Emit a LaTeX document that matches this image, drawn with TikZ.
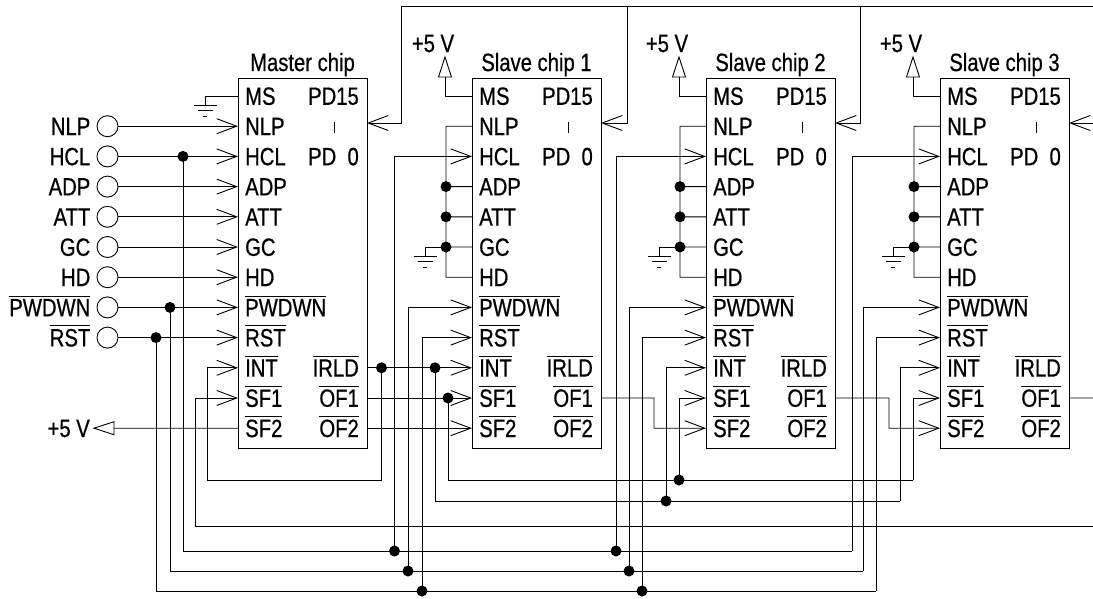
\documentclass[tikz,border=0pt]{standalone}
\usepackage{fontspec}
\setmainfont{Liberation Sans}[FakeStretch=0.81,FakeBold=0.6]
\usetikzlibrary{arrows.meta}
\newsavebox\obbox
\newcommand\ob[1]{\sbox\obbox{#1}\rlap{\raisebox{\dimexpr\ht\obbox+2.5pt\relax}{\rule{\wd\obbox}{1pt}}}\usebox\obbox}
\begin{document}
\begin{tikzpicture}[x=1pt,y=-1pt,
  font=\fontsize{25}{29}\selectfont,
  wire/.style={line width=0.9pt},
  chipbox/.style={draw, line width=1.1pt, inner sep=0pt, minimum width=129pt, minimum height=370pt, anchor=north west},
  pinl/.style={anchor=base west, inner sep=0pt},
  pinr/.style={anchor=base east, inner sep=0pt},
  ar/.style={-{Straight Barb[length=20pt,width=15pt,line width=0.9pt]}},
  jdot/.style={circle, fill, inner sep=0pt, minimum size=11pt},
  port/.style={circle, draw, line width=0.9pt, inner sep=0pt, minimum size=21pt},
  gnd/.pic={\draw[line width=0.9pt] (-11.5,0) -- (11.5,0) (-7.5,5.5) -- (7.5,5.5) (-2,11) -- (2,11);},
]
\useasboundingbox (0,0) rectangle (1093,598);

% chips
\foreach \chip/\xl/\ttl in {m/238/Master chip,s1/472/Slave chip 1,s2/706/Slave chip 2,s3/940/Slave chip 3}{
  \node[chipbox] (\chip) at (\xl,78) {};
  \node[anchor=base, inner sep=0pt] (\chip-title) at (\xl+64.5,71) {\ttl};
  \foreach \i/\lab in {0/MS,1/NLP,2/HCL,3/ADP,4/ATT,5/GC,6/HD,7/\ob{PWDWN},8/\ob{RST},9/\ob{INT},10/\ob{SF1},11/\ob{SF2}}{
    \coordinate (\chip-l\i) at (\xl,96+30.2*\i);
    \node[pinl] (\chip-t\i) at (\xl+7,104.8+30.2*\i) {\lab};
  }
  \foreach \i/\lab in {0/PD15,2/PD\phantom{1}0,9/\ob{IRLD},10/\ob{OF1},11/\ob{OF2}}{
    \coordinate (\chip-r\i) at (\xl+129,96+30.2*\i);
    \node[pinr] (\chip-u\i) at (\xl+121,104.8+30.2*\i) {\lab};
  }
  \coordinate (\chip-pd) at (\xl+129,123);
  \draw[line width=0.9pt] (\xl+96.5,122) -- (\xl+96.5,133);
}

% master inputs
\foreach \i/\lab in {1/NLP,2/HCL,3/ADP,4/ATT,5/GC,6/HD,7/\ob{PWDWN},8/\ob{RST}}{
  \node[port] (in\i) at (107.5,96+30.2*\i) {};
  \node[pinr] (inl\i) at (90.5,104.8+30.2*\i) {\lab};
  \draw[wire,ar] (in\i) -- (m-l\i);
}

% master MS ground
\coordinate (mg) at (205,105);
\draw[wire] (m-l0) -| (mg);
\pic at (mg) {gnd};

% master SF2 to +5 V
\coordinate (mv) at (114,428.2);
\draw[wire] (m-l11) -- (mv);
\draw[line width=0.9pt] (114,421.7) -- (94,428.2) -- (114,434.7) -- cycle;
\node[pinr] (mvl) at (90,437) {+5 V};

% HCL bus
\coordinate (jH) at (183,156.4);
\coordinate (cH0) at (183,551);
\coordinate (jH1) at (394.5,551);
\coordinate (jH2) at (616,551);
\coordinate (cH3) at (852,551);
\draw[wire] (jH) -- (cH0) -- (cH3);
\draw[wire,ar] (cH3) |- (s3-l2);
\draw[wire,ar] (jH1) |- (s1-l2);
\draw[wire,ar] (jH2) |- (s2-l2);

% PWDWN bus
\coordinate (jP) at (170,307.4);
\coordinate (cP0) at (170,571);
\coordinate (jP1) at (408,571);
\coordinate (jP2) at (629,571);
\coordinate (cP3) at (863,571);
\draw[wire] (jP) -- (cP0) -- (cP3);
\draw[wire,ar] (cP3) |- (s3-l7);
\draw[wire,ar] (jP1) |- (s1-l7);
\draw[wire,ar] (jP2) |- (s2-l7);

% RST bus
\coordinate (jR) at (156,337.6);
\coordinate (cR0) at (156,591);
\coordinate (jR1) at (422,591);
\coordinate (jR2) at (642,591);
\coordinate (cR3) at (876,591);
\draw[wire] (jR) -- (cR0) -- (cR3);
\draw[wire,ar] (cR3) |- (s3-l8);
\draw[wire,ar] (jR1) |- (s1-l8);
\draw[wire,ar] (jR2) |- (s2-l8);

% IRLD -> INT
\coordinate (jI) at (381.5,367.8);
\coordinate (jI1) at (435,367.8);
\coordinate (cIa) at (381.5,480);
\coordinate (cIb) at (207,480);
\coordinate (cIc) at (435,501);
\coordinate (jI2) at (666,501);
\coordinate (cI3) at (900,501);
\draw[wire,ar] (m-r9) -- (s1-l9);
\draw[wire,ar] (jI) -- (cIa) -- (cIb) |- (m-l9);
\draw[wire] (jI1) -- (cIc) -- (cI3);
\draw[wire,ar] (cI3) |- (s3-l9);
\draw[wire,ar] (jI2) |- (s2-l9);

% OF1 -> SF1
\coordinate (jF) at (448,398);
\coordinate (cFa) at (448,480);
\coordinate (jF2) at (679,480);
\coordinate (cF3) at (913,480);
\draw[wire,ar] (m-r10) -- (s1-l10);
\draw[wire] (jF) -- (cFa) -- (cF3);
\draw[wire,ar] (cF3) |- (s3-l10);
\draw[wire,ar] (jF2) |- (s2-l10);

% master SF1 feed from the right
\coordinate (eS) at (1093,526);
\coordinate (cS) at (195,526);
\draw[wire,ar] (eS) -- (cS) |- (m-l10);

% OF2 / OF1 -> SF2
\draw[wire,ar] (m-r11) -- (s1-l11);
\coordinate (k1) at (654,398);
\coordinate (k2) at (889,398);
\coordinate (eO) at (1093,398);
\draw[wire,ar] (s1-r10) -- (k1) |- (s2-l11);
\draw[wire,ar] (s2-r10) -- (k2) |- (s3-l11);
\draw[wire] (s3-r10) -- (eO);

% PD bus
\coordinate (pA) at (401,6);
\coordinate (pB) at (627,6);
\coordinate (pC) at (860,6);
\coordinate (pE) at (1093,6);
\coordinate (pF) at (1093,123);
\draw[wire] (pE) -- (pA);
\draw[wire,ar] (pA) |- (m-pd);
\draw[wire,ar] (pB) |- (s1-pd);
\draw[wire,ar] (pC) |- (s2-pd);
\draw[wire,ar] (pF) -- (s3-pd);

% slave internals
\foreach \chip/\xl in {s1/472,s2/706,s3/940}{
  \coordinate (\chip-na) at (\xl-26,126.2);
  \coordinate (\chip-nb) at (\xl-26,277.2);
  \coordinate (\chip-ja) at (\xl-26,186.6);
  \coordinate (\chip-jb) at (\xl-26,216.8);
  \coordinate (\chip-jc) at (\xl-26,247);
  \draw[wire] (\chip-l1) -- (\chip-na) -- (\chip-nb) -- (\chip-l6);
  \draw[wire] (\chip-ja) -- (\chip-l3) (\chip-jb) -- (\chip-l4) (\chip-jc) -- (\chip-l5);
  \coordinate (\chip-g) at (\xl-47,256);
  \draw[wire] (\chip-jc) -| (\chip-g);
  \pic at (\chip-g) {gnd};
  \coordinate (\chip-v) at (\xl-27,77);
  \draw[wire] (\chip-l0) -| (\chip-v);
  \draw[line width=0.9pt] (\xl-33.5,77) -- (\xl-27,57) -- (\xl-20.5,77) -- cycle;
  \node[anchor=base, inner sep=0pt] (\chip-vl) at (\xl-39,52) {+5 V};
  \node[jdot] (\chip-da) at (\chip-ja) {};
  \node[jdot] (\chip-db) at (\chip-jb) {};
  \node[jdot] (\chip-dc) at (\chip-jc) {};
}

% junction dots
\foreach \j in {jH,jH1,jH2,jP,jP1,jP2,jR,jR1,jR2,jI,jI1,jI2,jF,jF2}{
  \node[jdot] (\j-d) at (\j) {};
}
\end{tikzpicture}
\end{document}
